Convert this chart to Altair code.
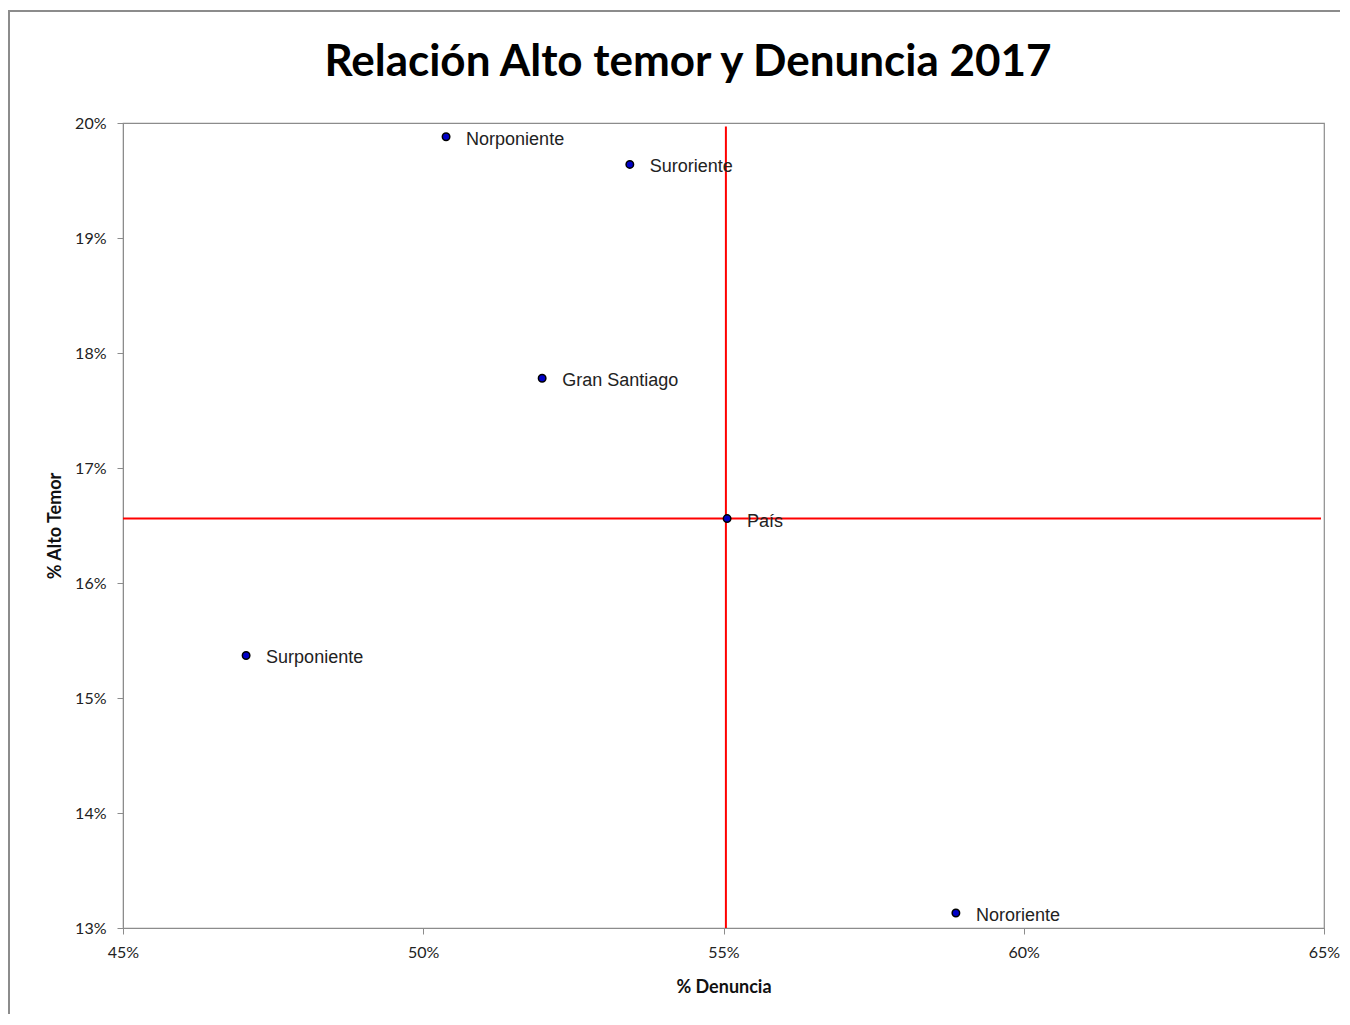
import altair as alt
import pandas as pd

# Data, fractions
regions = ["Norponiente", "Suroriente", "Gran Santiago", "País", "Surponiente", "Nororiente"]
denuncia = [0.5038, 0.5344, 0.5198, 0.5506, 0.4705, 0.5887]
alto_temor = [0.1988, 0.1964, 0.1778, 0.1656, 0.1537, 0.1313]

# reference (red) lines at the country values
ref_x = [0.5504]
ref_y = [0.1656]
x_range = [0.45, 0.6495]
y_range = [0.13, 0.1997]

title_text = ["Relación Alto temor y Denuncia 2017"]

df = pd.DataFrame({"region": regions, "denuncia": denuncia, "temor": alto_temor})
vline = pd.DataFrame({"x": ref_x, "y": [y_range[0]], "y2": [y_range[1]]})
hline = pd.DataFrame({"y": ref_y, "x": [x_range[0]], "x2": [x_range[1]]})
frame_df = pd.DataFrame({"k": [0]})
title_df = pd.DataFrame({"t": title_text})

x_scale = alt.Scale(domain=[0.45, 0.65], nice=False, zero=False)
y_scale = alt.Scale(domain=[0.13, 0.20], nice=False, zero=False)

x_axis = alt.Axis(title="% Denuncia", format=".0%", values=[0.45, 0.50, 0.55, 0.60, 0.65],
                  grid=False, domainColor="#8c8c8c", tickColor="#8c8c8c", tickSize=6,
                  labelFlush=False,
                  labelFont="Lato", labelFontSize=16, labelColor="#222", labelPadding=10,
                  titleFont="Lato", titleFontSize=18, titleFontWeight="bold", titleColor="#111",
                  titlePadding=18)
y_axis = alt.Axis(title="% Alto Temor", format=".0%", values=[0.13, 0.14, 0.15, 0.16, 0.17, 0.18, 0.19, 0.20],
                  grid=False, domainColor="#8c8c8c", tickColor="#8c8c8c", tickSize=6,
                  labelFlush=False,
                  labelFont="Lato", labelFontSize=16, labelColor="#222", labelPadding=11,
                  titleFont="Lato", titleFontSize=18, titleFontWeight="bold", titleColor="#111",
                  titlePadding=10)

frame = alt.Chart(frame_df).mark_rect(fill=None, stroke="#8c8c8c", strokeWidth=2, clip=False).encode(
    x=alt.value(-114), x2=alt.value(1240), y=alt.value(-112), y2=alt.value(940)
)

title = alt.Chart(title_df).mark_text(font="Lato", fontSize=44, fontWeight="bold", color="#000",
                                       align="center", baseline="middle").encode(
    x=alt.value(565), y=alt.value(-60), text="t:N"
)

points = alt.Chart(df).mark_point(filled=True, size=56, fill="#0000c8", stroke="#000000",
                                   strokeWidth=1.5, opacity=1).encode(
    x=alt.X("denuncia:Q", scale=x_scale, axis=x_axis),
    y=alt.Y("temor:Q", scale=y_scale, axis=y_axis),
)

labels = alt.Chart(df).mark_text(align="left", baseline="middle", dx=20, dy=3,
                                  font="Liberation Sans", fontSize=18, color="#222").encode(
    x=alt.X("denuncia:Q", scale=x_scale),
    y=alt.Y("temor:Q", scale=y_scale),
    text="region:N",
)

vrule = alt.Chart(vline).mark_rule(color="#ff0000", strokeWidth=2).encode(
    x=alt.X("x:Q", scale=x_scale), y=alt.Y("y:Q", scale=y_scale), y2="y2:Q"
)
hrule = alt.Chart(hline).mark_rule(color="#ff0000", strokeWidth=2).encode(
    y=alt.Y("y:Q", scale=y_scale), x=alt.X("x:Q", scale=x_scale), x2="x2:Q"
)

chart = alt.layer(frame, title, vrule, hrule, points, labels).properties(
    width=1201, height=805,
    autosize=alt.AutoSizeParams(type="none"),
    padding={"left": 115, "top": 115, "right": 16, "bottom": 86},
).configure_view(stroke="#8c8c8c", strokeWidth=1.2)

chart.save("out.html", embed_options={"renderer": "svg", "actions": False})
